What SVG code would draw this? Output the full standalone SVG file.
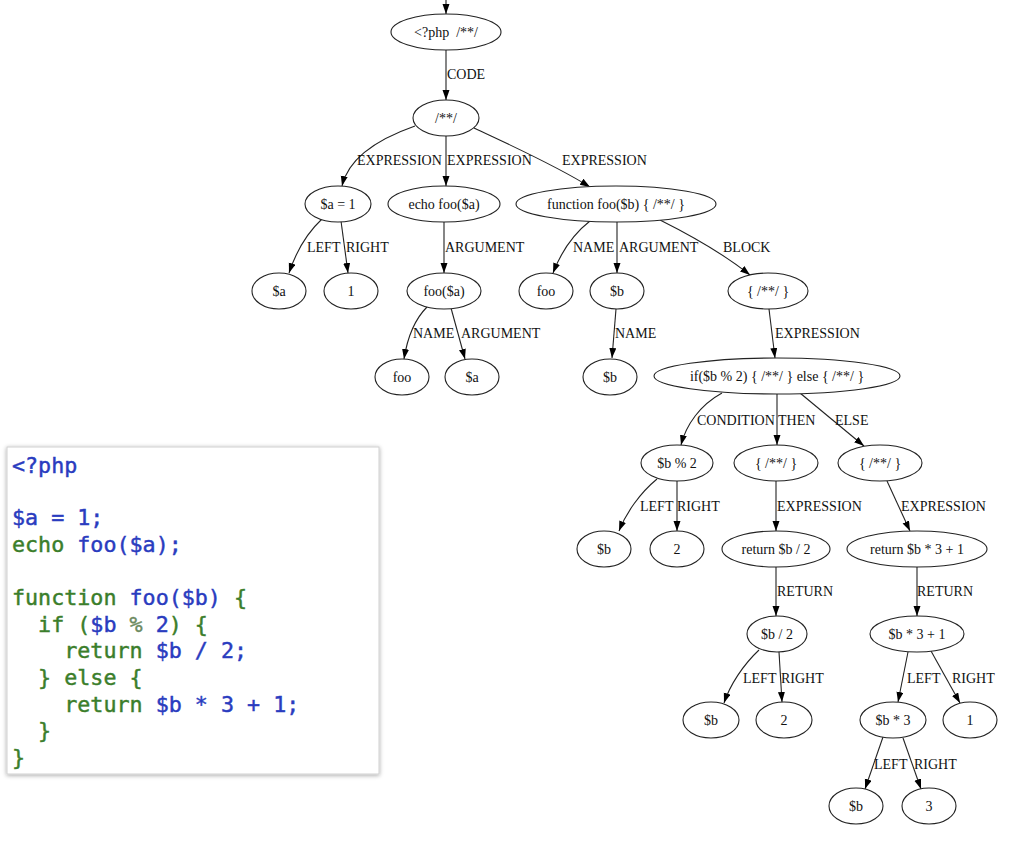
<svg xmlns="http://www.w3.org/2000/svg" width="1024" height="852" viewBox="0 0 1024 852">
<style>
.n ellipse{fill:#fff;stroke:#222;stroke-width:1.1}
.n text{font-family:"Liberation Serif","Times New Roman",serif;font-size:14px;text-anchor:middle;fill:#111}
.e path{fill:none;stroke:#222;stroke-width:1.1;marker-end:url(#ah)}
.lbl{font-family:"Liberation Serif","Times New Roman",serif;font-size:14px;fill:#111}
.code{font-family:"DejaVu Sans Mono","Liberation Mono",monospace;font-size:21.7px;white-space:pre;stroke-width:0.45}
.b{fill:#2a3cbf;stroke:#2a3cbf}
.g{fill:#3b7e2b;stroke:#3b7e2b}
.p{fill:#6b8a60;stroke:#6b8a60}
</style>
<defs>
<marker id="ah" markerUnits="userSpaceOnUse" markerWidth="11" markerHeight="8" refX="10" refY="3.5" orient="auto">
<path d="M0,0 L10,3.5 L0,7 z" fill="#000"/>
</marker>
<filter id="sh" x="-5%" y="-5%" width="110%" height="110%">
<feDropShadow dx="0" dy="1" stdDeviation="2" flood-color="#000" flood-opacity="0.35"/>
</filter>
</defs>
<rect width="1024" height="852" fill="#fff"/>

<g id="connectors" class="e">
<path d="M446,0 L446,14"/>
<path d="M446,50 L446,100"/>
<path d="M415,126 C375,140 348,160 342,186"/>
<path d="M446,136 L446,186"/>
<path d="M474,128 C510,145 555,165 590,187"/>
<path d="M322,219 C308,232 296,252 289,273"/>
<path d="M341,221 L348,273"/>
<path d="M444,222 L444,273"/>
<path d="M590,221 C572,235 560,255 553,273"/>
<path d="M617,222 L617,273"/>
<path d="M660,220 C690,235 725,255 750,275"/>
<path d="M427,307 C414,320 407,340 404,359"/>
<path d="M451,308 L465,359"/>
<path d="M616,309 L612,358"/>
<path d="M769,309 L775,358"/>
<path d="M722,393 C700,405 686,425 681,445"/>
<path d="M777,394 L777,445"/>
<path d="M800,393 L864,446"/>
<path d="M657,479 C640,493 626,513 619,531"/>
<path d="M677,481 L677,531"/>
<path d="M776,481 L776,531"/>
<path d="M887,481 L910,531"/>
<path d="M776,567 L776,616"/>
<path d="M917,567 L917,616"/>
<path d="M759,650 C743,665 730,685 724,703"/>
<path d="M779,652 L782,702"/>
<path d="M908,652 L898,702"/>
<path d="M931,651 L960,703"/>
<path d="M883,737 L865,789"/>
<path d="M903,738 L921,789"/>
</g>

<g id="edge-labels" class="lbl">
<text x="447" y="79">CODE</text>
<text x="357" y="165">EXPRESSION</text>
<text x="447" y="165">EXPRESSION</text>
<text x="562" y="165">EXPRESSION</text>
<text x="307" y="252">LEFT</text>
<text x="346" y="252">RIGHT</text>
<text x="445" y="252">ARGUMENT</text>
<text x="573" y="252">NAME</text>
<text x="619" y="252">ARGUMENT</text>
<text x="723" y="252">BLOCK</text>
<text x="413" y="338">NAME</text>
<text x="461" y="338">ARGUMENT</text>
<text x="615" y="338">NAME</text>
<text x="775" y="338">EXPRESSION</text>
<text x="697" y="425">CONDITION</text>
<text x="778" y="425">THEN</text>
<text x="835" y="425">ELSE</text>
<text x="640" y="511">LEFT</text>
<text x="677" y="511">RIGHT</text>
<text x="777" y="511">EXPRESSION</text>
<text x="901" y="511">EXPRESSION</text>
<text x="777" y="596">RETURN</text>
<text x="917" y="596">RETURN</text>
<text x="743" y="683">LEFT</text>
<text x="781" y="683">RIGHT</text>
<text x="907" y="683">LEFT</text>
<text x="952" y="683">RIGHT</text>
<text x="874" y="769">LEFT</text>
<text x="914" y="769">RIGHT</text>
</g>

<g id="n-root" class="n"><ellipse cx="446" cy="32" rx="55" ry="18"/><text x="446" y="37">&lt;?php&#160; /**/</text></g>
<g id="n-code" class="n"><ellipse cx="446" cy="118" rx="33" ry="18"/><text x="446" y="123">/**/</text></g>
<g id="n-assign" class="n"><ellipse cx="338" cy="204" rx="33" ry="18"/><text x="338" y="209">$a = 1</text></g>
<g id="n-echo" class="n"><ellipse cx="444" cy="204" rx="56" ry="18"/><text x="444" y="209">echo foo($a)</text></g>
<g id="n-func" class="n"><ellipse cx="616" cy="204" rx="100" ry="18"/><text x="616" y="209">function foo($b) { /**/ }</text></g>
<g id="n-a1" class="n"><ellipse cx="279" cy="291" rx="27" ry="18"/><text x="279" y="296">$a</text></g>
<g id="n-one1" class="n"><ellipse cx="351" cy="291" rx="27" ry="18"/><text x="351" y="296">1</text></g>
<g id="n-call" class="n"><ellipse cx="444" cy="291" rx="37" ry="18"/><text x="444" y="296">foo($a)</text></g>
<g id="n-fname" class="n"><ellipse cx="546" cy="291" rx="27" ry="18"/><text x="546" y="296">foo</text></g>
<g id="n-param" class="n"><ellipse cx="617" cy="291" rx="27" ry="18"/><text x="617" y="296">$b</text></g>
<g id="n-block" class="n"><ellipse cx="768" cy="291" rx="40" ry="18"/><text x="768" y="296">{ /**/ }</text></g>
<g id="n-cname" class="n"><ellipse cx="402" cy="377" rx="27" ry="18"/><text x="402" y="382">foo</text></g>
<g id="n-carg" class="n"><ellipse cx="472" cy="377" rx="27" ry="18"/><text x="472" y="382">$a</text></g>
<g id="n-pname" class="n"><ellipse cx="610" cy="377" rx="27" ry="18"/><text x="610" y="382">$b</text></g>
<g id="n-if" class="n"><ellipse cx="777" cy="376" rx="123" ry="18"/><text x="777" y="381">if($b % 2) { /**/ } else { /**/ }</text></g>
<g id="n-cond" class="n"><ellipse cx="677" cy="463" rx="36" ry="18"/><text x="677" y="468">$b % 2</text></g>
<g id="n-then" class="n"><ellipse cx="776" cy="463" rx="42" ry="18"/><text x="776" y="468">{ /**/ }</text></g>
<g id="n-else" class="n"><ellipse cx="880" cy="463" rx="42" ry="18"/><text x="880" y="468">{ /**/ }</text></g>
<g id="n-cb" class="n"><ellipse cx="604" cy="549" rx="27" ry="18"/><text x="604" y="554">$b</text></g>
<g id="n-c2" class="n"><ellipse cx="677" cy="549" rx="27" ry="18"/><text x="677" y="554">2</text></g>
<g id="n-ret1" class="n"><ellipse cx="776" cy="549" rx="54" ry="18"/><text x="776" y="554">return $b / 2</text></g>
<g id="n-ret2" class="n"><ellipse cx="917" cy="549" rx="70" ry="18"/><text x="917" y="554">return $b * 3 + 1</text></g>
<g id="n-div" class="n"><ellipse cx="777" cy="634" rx="30" ry="18"/><text x="777" y="639">$b / 2</text></g>
<g id="n-add" class="n"><ellipse cx="917" cy="634" rx="47" ry="18"/><text x="917" y="639">$b * 3 + 1</text></g>
<g id="n-db" class="n"><ellipse cx="711" cy="720" rx="28" ry="18"/><text x="711" y="725">$b</text></g>
<g id="n-d2" class="n"><ellipse cx="784" cy="720" rx="28" ry="18"/><text x="784" y="725">2</text></g>
<g id="n-mul" class="n"><ellipse cx="893" cy="720" rx="33" ry="18"/><text x="893" y="725">$b * 3</text></g>
<g id="n-a1r" class="n"><ellipse cx="970" cy="720" rx="27" ry="18"/><text x="970" y="725">1</text></g>
<g id="n-mb" class="n"><ellipse cx="856" cy="806" rx="27" ry="18"/><text x="856" y="811">$b</text></g>
<g id="n-m3" class="n"><ellipse cx="929" cy="806" rx="27" ry="18"/><text x="929" y="811">3</text></g>

<g id="code-box">
<rect x="7" y="447" width="372" height="327" fill="#fff" stroke="#d0d0d0" stroke-width="1" filter="url(#sh)"/>
<text class="code" x="12" y="473"><tspan class="b">&lt;?php</tspan></text>
<text class="code" x="12" y="525"><tspan class="b">$a = 1;</tspan></text>
<text class="code" x="12" y="552"><tspan class="g">echo </tspan><tspan class="b">foo($a);</tspan></text>
<text class="code" x="12" y="605"><tspan class="g">function </tspan><tspan class="b">foo($b)</tspan><tspan class="g"> {</tspan></text>
<text class="code" x="12" y="632"><tspan class="g">  if (</tspan><tspan class="b">$b</tspan><tspan class="p"> % </tspan><tspan class="b">2</tspan><tspan class="g">) {</tspan></text>
<text class="code" x="12" y="658"><tspan class="g">    return </tspan><tspan class="b">$b / 2;</tspan></text>
<text class="code" x="12" y="685"><tspan class="g">  } else {</tspan></text>
<text class="code" x="12" y="712"><tspan class="g">    return </tspan><tspan class="b">$b * 3 + 1;</tspan></text>
<text class="code" x="12" y="738"><tspan class="g">  }</tspan></text>
<text class="code" x="12" y="765"><tspan class="g">}</tspan></text>
</g>
</svg>
